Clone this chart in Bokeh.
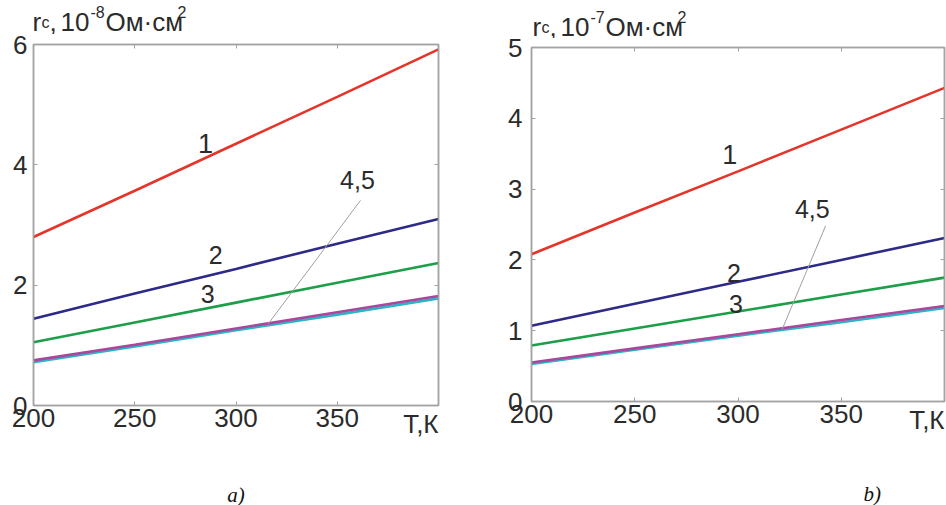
from bokeh.plotting import figure
from bokeh.models import LinearAxis, Label, FixedTicker, Range1d
from bokeh.layouts import row, column
from bokeh.embed import file_html
from bokeh.resources import INLINE

# ---------------- data ----------------
T = [200, 250, 300, 350, 400]
x_ticks = [200, 250, 300, 350]

# panel a) r_c, 10^-8 Ohm*cm^2
a_r1 = [2.80, 3.57, 4.35, 5.13, 5.92]
a_r2 = [1.44, 1.86, 2.27, 2.69, 3.10]
a_r3 = [1.05, 1.38, 1.71, 2.04, 2.37]
a_r4 = [0.75, 1.01, 1.28, 1.55, 1.82]
a_r5 = [0.72, 0.98, 1.25, 1.51, 1.78]
a_yticks = [0, 2, 4, 6]

# panel b) r_c, 10^-7 Ohm*cm^2
b_r1 = [2.08, 2.67, 3.25, 3.84, 4.43]
b_r2 = [1.07, 1.38, 1.69, 2.00, 2.31]
b_r3 = [0.79, 1.03, 1.27, 1.51, 1.75]
b_r4 = [0.55, 0.75, 0.95, 1.15, 1.35]
b_r5 = [0.53, 0.73, 0.93, 1.12, 1.32]
b_yticks = [0, 1, 2, 3, 4, 5]

colors = ["#e5352a", "#2e2a88", "#1d9e48", "#a8479c", "#2bb3c6"]

# curve label positions (data coords)
a_lab = {"1": (285, 4.36), "2": (290, 2.50), "3": (286, 1.86), "4,5": (360, 3.74)}
b_lab = {"1": (296, 3.49), "2": (298, 1.82), "3": (299, 1.38), "4,5": (336, 2.72)}
# leader lines for "4,5"
a_leader = ([361.5, 316.0], [3.41, 1.36])
b_leader = ([342.4, 321.4], [2.48, 1.02])

FONT = "Liberation Sans"
GRAY = "#a3a3a3"
TXT = "#2b2b2b"


def title_strip(exp, shift, strip_h, y_base):
    # strip shares the panel's x scale (its frame is aligned to the panel's frame)
    s = figure(width=473, height=strip_h, output_backend="svg", toolbar_location=None,
               title=None, x_range=Range1d(200, 400), y_range=Range1d(0, strip_h),
               x_axis_type=None, y_axis_type=None,
               min_border_left=0, min_border_right=0, min_border_top=0, min_border_bottom=0)
    s.outline_line_color = None
    s.xgrid.visible = False
    s.ygrid.visible = False
    pieces = [("r", 0, 0, "26px"), ("c", 9, -1, "16px"), (",", 17, 0, "26px"),
              ("10", 28, 0, "26px"), (exp, 58, 10, "16px"), ("Ом·см", 73, 0, "26px"),
              ("2", 145, 10, "16px")]
    for txt, dx, dy, fs in pieces:
        s.add_layout(Label(x=200, y=y_base + dy, x_offset=shift + dx,
                           text=txt, text_font=FONT, text_font_size=fs, text_color=TXT,
                           text_align="left", text_baseline="alphabetic"))
    return s


def make_panel(series, yticks, ymax, height, borders, ystand, lab, leader, cap, cap_pos):
    left, right, top, bottom = borders
    p = figure(width=473, height=height, output_backend="svg", toolbar_location=None,
               title=None, x_range=Range1d(200, 400), y_range=Range1d(0, ymax),
               min_border_left=left, min_border_right=right,
               min_border_top=top, min_border_bottom=bottom)
    p.xgrid.visible = False
    p.ygrid.visible = False
    p.outline_line_color = GRAY
    p.outline_line_width = 1.5

    for ax, ticks in ((p.xaxis[0], x_ticks), (p.yaxis[0], yticks)):
        ax.ticker = FixedTicker(ticks=ticks)
        ax.axis_line_color = GRAY
        ax.axis_line_width = 1.5
        ax.major_tick_line_color = GRAY
        ax.major_tick_in = 4
        ax.major_tick_out = 0
        ax.minor_tick_line_color = None
        ax.major_label_text_font = FONT
        ax.major_label_text_font_size = "26px"
        ax.major_label_text_color = TXT
    p.xaxis[0].major_label_standoff = 3
    p.yaxis[0].major_label_standoff = ystand

    for loc, ticks in (("above", x_ticks), ("right", yticks)):
        ax = LinearAxis(ticker=FixedTicker(ticks=ticks),
                        major_label_overrides={t: "" for t in ticks},
                        major_label_text_font_size="1px",
                        major_label_standoff=0,
                        axis_line_color=GRAY, axis_line_width=1.5,
                        major_tick_line_color=GRAY, major_tick_in=4, major_tick_out=0,
                        minor_tick_line_color=None)
        p.add_layout(ax, loc)

    for i in [4, 3, 0, 1, 2]:
        p.line(T, series[i], line_color=colors[i], line_width=2.6)

    p.line(leader[0], leader[1], line_color="#a0a0a0", line_width=1)

    for t, (lx, ly) in lab.items():
        p.add_layout(Label(x=lx, y=ly, text=t, text_font=FONT,
                           text_font_size="27px" if t == "1" else "25px",
                           text_color=TXT, text_align="center", text_baseline="middle"))

    # x title in place of 400 (in the below panel so it is not clipped)
    p.add_layout(Label(x=400, y=0, text="T,К", y_offset=-3, text_font=FONT,
                       text_font_size="26px", text_color=TXT,
                       text_align="right", text_baseline="top"), "below")

    # caption
    p.add_layout(Label(x=cap_pos[0], y=cap_pos[1], text=cap, text_font="Liberation Serif",
                       text_font_style="italic", text_font_size="21px", text_color="#111111",
                       text_align="center", text_baseline="middle"), "below")
    return p


ta = title_strip("-8", -1, 34, 13)
tb = title_strip("-7", 1, 38, 12)
pa = make_panel([a_r1, a_r2, a_r3, a_r4, a_r5], a_yticks, 6, 505 - 34, (33, 35, 10, 100), 6,
                a_lab, a_leader, "a)", (300, -1.48))
pb = make_panel([b_r1, b_r2, b_r3, b_r4, b_r5], b_yticks, 5, 505 - 38, (58, 2, 9, 104), 9,
                b_lab, b_leader, "b)", (365, -1.30))

layout = row(column(ta, pa), column(tb, pb))
open("out.html", "w").write(file_html(layout, INLINE))
